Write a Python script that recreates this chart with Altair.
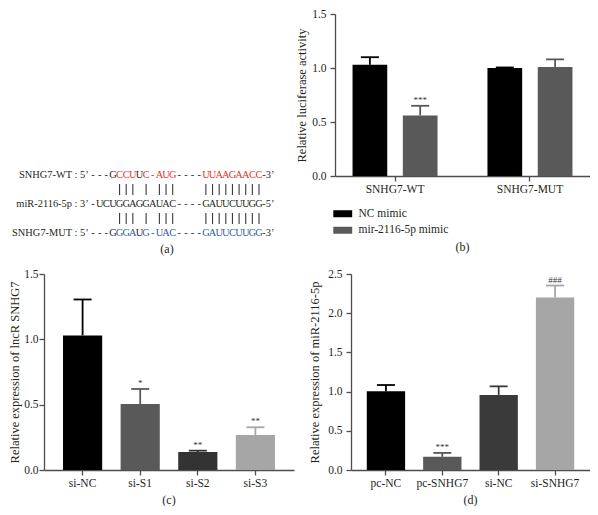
import altair as alt
import pandas as pd

FONT = "Liberation Serif"
INK = "#231f20"

# ---------------- (a) sequence alignment ----------------
SEQ_LABELS = ["SNHG7-WT : 5\u2019", "miR-2116-5p : 3\u2019", "SNHG7-MUT : 5\u2019"]
SEQ_TAILS = ["-3\u2019", "-5\u2019", "-3\u2019"]
WT_SEQ = ["---G", "CCU", "U", "C-AUG", "----", "UUAAGAACC"]
WT_KIND = ["plain", "wt", "plain", "wt", "plain", "wt"]
MIR_SEQ = ["-UCUGGAGGAUAC----GAUUCUUGG"]
MIR_KIND = ["plain"]
MUT_SEQ = ["---G", "GGA", "U", "G-UAC", "----", "GAUUCUUGG"]
MUT_KIND = ["plain", "mut", "plain", "mut", "plain", "mut"]
SEQ_ROWS = [0, 2, 4]
PAIR_ROWS = [1, 3]
PAIR_COLS = [4, 5, 6, 8, 10, 11, 12, 17, 18, 19, 20, 21, 22, 23, 24, 25]

char_recs = []
for row, segs, kinds in zip(SEQ_ROWS, [WT_SEQ, MIR_SEQ, MUT_SEQ], [WT_KIND, MIR_KIND, MUT_KIND]):
    col = 0
    for seg, kind in zip(segs, kinds):
        for ch in seg:
            char_recs.append({"row": row, "col": col, "txt": ch, "kind": kind})
            col += 1
df_chars = pd.DataFrame(char_recs)
df_pairs = pd.DataFrame([{"row": r, "col": c} for r in PAIR_ROWS for c in PAIR_COLS])
n_cols = max(len("".join(s)) for s in [WT_SEQ, MIR_SEQ, MUT_SEQ])
df_lab = pd.DataFrame({"row": SEQ_ROWS, "col": [-0.5] * 3, "txt": SEQ_LABELS})
df_tail = pd.DataFrame({"row": SEQ_ROWS, "col": [n_cols - 0.5] * 3, "txt": SEQ_TAILS})

xs_a = alt.Scale(domain=[0, 25], range=[49, 215])
ys_a = alt.Scale(domain=[0, 4], range=[161, 219], nice=False, zero=False)
XA = alt.X("col:Q", scale=xs_a, axis=None)
YA = alt.Y("row:Q", scale=ys_a, axis=None)
FS_A = 10.4

chars = alt.Chart(df_chars).mark_text(
    align="center", baseline="middle", font=FONT, fontSize=FS_A
).encode(
    x=XA, y=YA, text="txt:N",
    color=alt.Color("kind:N", legend=None,
                    scale=alt.Scale(domain=["plain", "wt", "mut"],
                                    range=[INK, "#e5332a", "#2e5da8"])),
)
pairs = alt.Chart(df_pairs).mark_tick(
    orient="vertical", size=11, thickness=1.1, color="#3a3a3a", opacity=1
).encode(x=XA, y=YA)
labels = alt.Chart(df_lab).mark_text(
    align="right", baseline="middle", font=FONT, fontSize=FS_A, color=INK, dx=-1
).encode(x=XA, y=YA, text="txt:N")
tails = alt.Chart(df_tail).mark_text(
    align="left", baseline="middle", font=FONT, fontSize=FS_A, color=INK
).encode(x=XA, y=YA, text="txt:N")
panel_a = alt.layer(chars, pairs, labels, tails).properties(
    width=246, height=224,
    title=alt.TitleParams("(a)", orient="bottom", offset=6),
)

# ---------------- (b) luciferase ----------------
B_GROUPS = ["SNHG7-WT", "SNHG7-MUT"]
B_TREATS = ["NC mimic", "mir-2116-5p mimic"]
B_MEAN = [1.03, 0.56, 1.00, 1.01]
B_UPPER = [1.10, 0.65, 1.005, 1.08]
B_SIG = ["", "***", "", ""]
df_b = pd.DataFrame({
    "group": [g for g in B_GROUPS for _ in B_TREATS],
    "treat": B_TREATS * len(B_GROUPS),
    "mean": B_MEAN, "upper": B_UPPER, "sig": B_SIG,
})

# ---------------- (c) SNHG7 knockdown ----------------
C_CATS = ["si-NC", "si-S1", "si-S2", "si-S3"]
C_MEAN = [1.03, 0.505, 0.137, 0.268]
C_UPPER = [1.305, 0.62, 0.148, 0.327]
C_SIG = ["", "*", "**", "**"]
df_c = pd.DataFrame({"cat": C_CATS, "mean": C_MEAN, "upper": C_UPPER, "sig": C_SIG})

# ---------------- (d) miR-2116-5p ----------------
D_CATS = ["pc-NC", "pc-SNHG7", "si-NC", "si-SNHG7"]
D_MEAN = [1.005, 0.168, 0.958, 2.20]
D_UPPER = [1.084, 0.218, 1.067, 2.353]
D_SIG = ["", "***", "", "###"]
df_d = pd.DataFrame({"cat": D_CATS, "mean": D_MEAN, "upper": D_UPPER, "sig": D_SIG})


def bar_panel(df, x_field, x_sort, color_field, color_sort, colors, y_max, y_ticks,
              y_title, caption, width, height, pad_inner, pad_outer, title_pad,
              label_pad, offset=None, legend=None):
    enc = dict(
        x=alt.X(x_field, sort=x_sort, title=None,
                scale=alt.Scale(paddingInner=pad_inner, paddingOuter=pad_outer),
                axis=alt.Axis(labelAngle=0, labelPadding=2, tickSize=5)),
    )
    if offset is not None:
        enc["xOffset"] = offset
    base = alt.Chart(df).encode(**enc)
    ys = alt.Scale(domain=[0, y_max], nice=False)
    yax = alt.Axis(values=y_ticks, format=".1f", title=y_title,
                   titlePadding=title_pad, labelPadding=label_pad, tickSize=5)
    cscale = alt.Scale(domain=color_sort, range=colors)
    bars = base.mark_bar(opacity=1).encode(
        y=alt.Y("mean:Q", scale=ys, axis=yax),
        color=alt.Color(color_field, scale=cscale, sort=color_sort,
                        legend=legend if legend is not None else None),
    )
    err = base.mark_rule(strokeWidth=1.8, opacity=1).encode(
        y=alt.Y("mean:Q", scale=ys, axis=yax), y2="upper:Q",
        stroke=alt.Stroke(color_field, scale=cscale, legend=None),
    )
    cap = base.mark_tick(size=18, thickness=1.8, opacity=1).encode(
        y=alt.Y("upper:Q", scale=ys, axis=yax),
        fill=alt.Fill(color_field, scale=cscale, legend=None),
    )
    sig = base.mark_text(baseline="bottom", dy=-1, font=FONT, fontSize=9,
                         color="#333333").encode(
        y=alt.Y("upper:Q", scale=ys, axis=yax), text="sig:N",
    )
    return alt.layer(bars, err, cap, sig).properties(
        width=width, height=height,
        title=alt.TitleParams(caption, orient="bottom", offset=6),
    )


B_HEIGHT = 162
legend_b = alt.Legend(
    orient="none", legendX=2, legendY=B_HEIGHT + 32, title=None,
    symbolType="M-2.7,-1H2.7V1H-2.7Z", symbolSize=49, symbolStrokeWidth=0,
    labelFont=FONT, labelFontSize=11.5, labelColor=INK, rowPadding=3.5,
    labelOffset=10, padding=0, direction="vertical",
)

panel_b = bar_panel(
    df_b, "group:N", B_GROUPS, "treat:N", B_TREATS, ["#000000", "#595959"],
    1.5, [0, 0.5, 1.0, 1.5], "Relative luciferase activity", "(b)",
    255, B_HEIGHT, 0.37, 0.13, 3, 4,
    offset=alt.XOffset("treat:N", sort=B_TREATS,
                       scale=alt.Scale(paddingInner=0.31, paddingOuter=0)),
    legend=legend_b,
)

panel_c = bar_panel(
    df_c, "cat:N", C_CATS, "cat:N", C_CATS,
    ["#000000", "#595959", "#333333", "#a6a6a6"],
    1.5, [0, 0.5, 1.0, 1.5], "Relative expression of lncR SNHG7", "(c)",
    250, 196, 0.32, 0.33, 2, 1,
)

panel_d = bar_panel(
    df_d, "cat:N", D_CATS, "cat:N", D_CATS,
    ["#000000", "#595959", "#3a3a3a", "#a6a6a6"],
    2.5, [0, 0.5, 1.0, 1.5, 2.0, 2.5], "Relative expression of miR-2116-5p", "(d)",
    239, 196, 0.32, 0.28, 6, 4,
)

IND = dict(color="independent", fill="independent", stroke="independent")
top = alt.hconcat(panel_a, panel_b, spacing=5).resolve_scale(**IND)
bottom = alt.hconcat(panel_c, panel_d, spacing=14).resolve_scale(**IND)

chart = alt.vconcat(top, bottom, spacing=12).resolve_scale(**IND).properties(
    padding=0
).configure_axis(
    labelFont=FONT, titleFont=FONT, labelFontSize=11.5, titleFontSize=12.5,
    titleFontWeight="normal", labelColor=INK, titleColor=INK,
    domainColor="#4d4d4d", tickColor="#4d4d4d", domainWidth=1.3, tickWidth=1.3,
    grid=False,
).configure_view(stroke=None).configure_title(
    font=FONT, fontSize=12, fontWeight="normal", color=INK,
)

chart.save("out.html", embed_options={"renderer": "svg", "actions": False})
